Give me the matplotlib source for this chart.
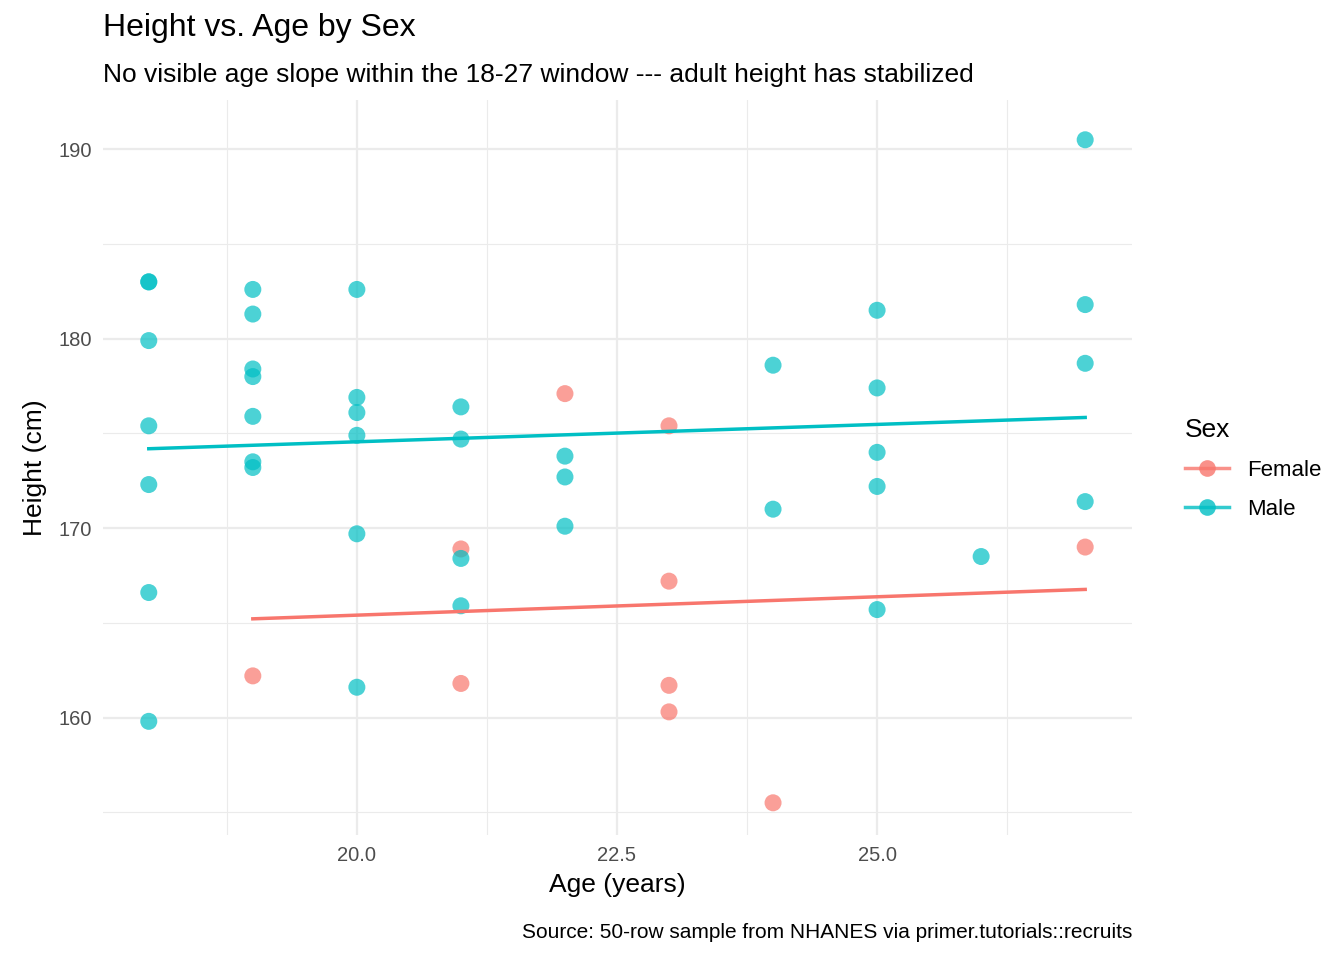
import matplotlib
matplotlib.use("Agg")
import matplotlib.pyplot as plt
import numpy as np
from matplotlib.lines import Line2D

plt.rcParams['font.family'] = ['Liberation Sans', 'DejaVu Sans']

male_age = [18,18,18,18,18,18,18, 19,19,19,19,19,19,19, 20,20,20,20,20,20, 21,21,21,21, 22,22,22, 24,24, 25,25,25,25,25, 26, 27,27,27,27]
male_h = [183.0,183.0,179.9,175.4,172.3,166.6,159.8, 182.6,181.3,178.4,178.0,175.9,173.5,173.2, 182.6,176.9,176.1,174.9,169.7,161.6, 176.4,174.7,168.4,165.9, 173.8,172.7,170.1, 178.6,171.0, 181.5,177.4,174.0,172.2,165.7, 168.5, 190.5,181.8,178.7,171.4]
fem_age = [19, 21,21, 22, 23,23,23,23, 24, 27]
fem_h = [162.2, 168.9,161.8, 177.1, 175.4,167.2,161.7,160.3, 155.5, 169.0]

colors = {"Female": "#F8766D", "Male": "#00BFC4"}

fig = plt.figure(figsize=(13.44, 9.6), dpi=100)
ax = fig.add_axes([103/1344, 1-835/960, (1132-103)/1344, (835-100)/960])
ax.set_xlim(17.56, 27.45)
ax.set_ylim(153.8, 192.6)
ax.set_xticks([20, 22.5, 25])
ax.set_xticklabels(["20.0", "22.5", "25.0"])
ax.set_xticks([18.75, 21.25, 23.75, 26.25], minor=True)
ax.set_yticks([160, 170, 180, 190])
ax.set_yticks([155, 165, 175, 185], minor=True)
ax.grid(which="major", color="#EBEBEB", lw=1.6)
ax.grid(which="minor", color="#EBEBEB", lw=0.8)
ax.set_axisbelow(True)
for s in ax.spines.values():
    s.set_visible(False)
ax.tick_params(which="both", length=0, labelsize=14.5, labelcolor="#4D4D4D", pad=8)

for name, a, h in [("Female", fem_age, fem_h), ("Male", male_age, male_h)]:
    a = np.array(a, float); h = np.array(h, float)
    ax.scatter(a, h, s=150, color=colors[name], alpha=0.7, edgecolors="none", zorder=3)
    k, b = np.polyfit(a, h, 1)
    xs = np.array([a.min(), a.max()])
    ax.plot(xs, k*xs+b, color=colors[name], lw=2.5, zorder=4)

ax.set_xlabel("Age (years)", fontsize=19, labelpad=6)
ax.set_ylabel("Height (cm)", fontsize=19, labelpad=8)
fig.text(103/1344, 1-28/960, "Height vs. Age by Sex", fontsize=23, va="center")
fig.text(103/1344, 1-75/960, "No visible age slope within the 18-27 window --- adult height has stabilized", fontsize=19, va="center")
fig.text(1132/1344, 1-932/960, "Source: 50-row sample from NHANES via primer.tutorials::recruits", fontsize=15, ha="right", va="center")

handles = [Line2D([0],[0], color=colors[n], lw=2.5, marker="o", markersize=12, alpha=0.8, markeredgecolor="none") for n in ["Female","Male"]]
leg = fig.legend(handles, ["Female","Male"], title="Sex", loc="upper left", bbox_to_anchor=(1165/1344, 1-398/960),
                 frameon=False, fontsize=16, title_fontsize=19, handlelength=2, labelspacing=0.8)
leg._legend_box.align = "left"
fig.savefig("out.png", dpi=100)
